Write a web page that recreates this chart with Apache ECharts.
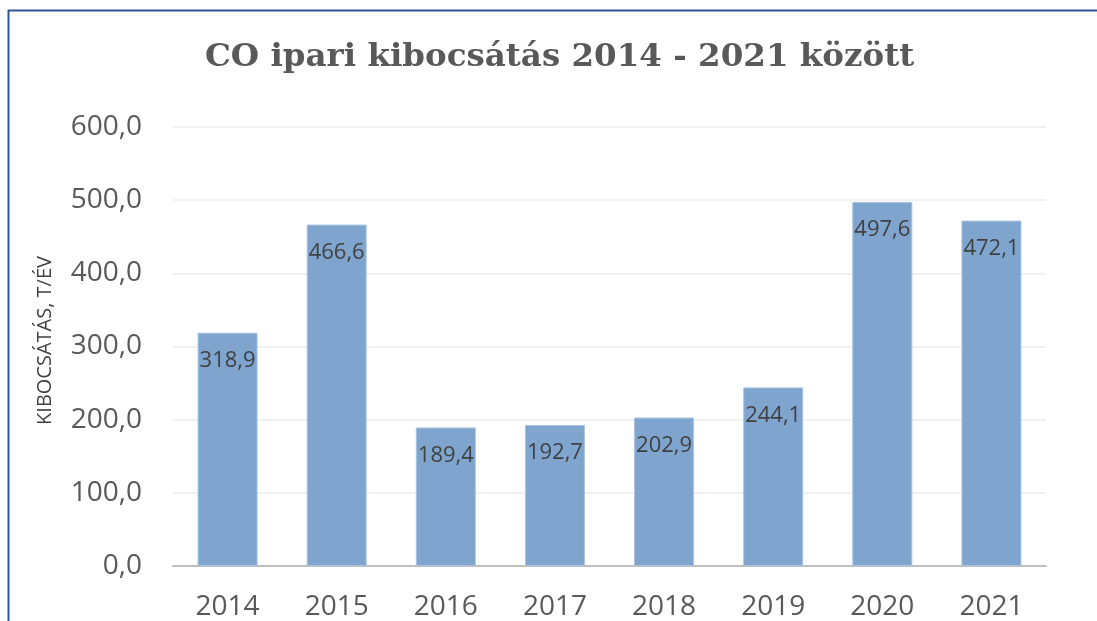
<!DOCTYPE html>
<html>
<head>
<meta charset="utf-8">
<script src="https://cdn.jsdelivr.net/npm/echarts@6/dist/echarts.min.js"></script>
<style>
  html, body { margin: 0; padding: 0; background: #fff; }
  #chart { width: 1097px; height: 621px; }
</style>
</head>
<body>
<div id="chart"></div>
<script>
// data
const years = ['2014', '2015', '2016', '2017', '2018', '2019', '2020', '2021'];
const emissions = [318.9, 466.6, 189.4, 192.7, 202.9, 244.1, 497.6, 472.1];
const titleText = 'CO ipari kibocsátás 2014 - 2021 között';
const yAxisName = 'KIBOCSÁTÁS, T/ÉV';

const fmt = v => v.toFixed(1).replace('.', ',');

const chart = echarts.init(document.getElementById('chart'), null, { renderer: 'canvas' });
chart.setOption({
  backgroundColor: '#fff',
  animation: false,
  title: {
    text: titleText,
    left: 200,
    top: 36,
    textStyle: { fontFamily: 'DejaVu Serif', fontWeight: 'bold', fontSize: 32.5, color: '#595959' }
  },
  // the blue frame on the left and top edges
  graphic: [
    { type: 'line', shape: { x1: 8.5, y1: 10, x2: 8.5, y2: 621 }, style: { stroke: '#2f5597', lineWidth: 2 } },
    { type: 'line', shape: { x1: 8, y1: 10.5, x2: 1097, y2: 10.5 }, style: { stroke: '#2f5597', lineWidth: 2 } }
  ],
  grid: { left: 173, right: 51, top: 127, bottom: 53 },
  xAxis: {
    type: 'category',
    data: years,
    axisLine: { lineStyle: { color: '#bfbfbf', width: 2 } },
    axisTick: { show: false },
    axisLabel: { fontFamily: 'Open Sans', fontSize: 28, color: '#595959', margin: 27 }
  },
  yAxis: {
    type: 'value',
    min: 0, max: 600, interval: 100,
    name: yAxisName,
    nameLocation: 'middle',
    nameGap: 118,
    nameTextStyle: { fontFamily: 'Open Sans', fontSize: 20, color: '#404040', padding: [0, 0, 0, 12] },
    axisLine: { show: false },
    axisTick: { show: false },
    splitLine: { lineStyle: { color: '#ececec', width: 1.5 } },
    axisLabel: { fontFamily: 'Open Sans', fontSize: 28, color: '#595959', margin: 31, formatter: fmt }
  },
  series: [{
    type: 'bar',
    data: emissions,
    barWidth: '55%',
    itemStyle: { color: '#7fa5cf', borderColor: '#a9c4e3', borderWidth: 1 },
    label: {
      show: true,
      position: 'insideTop',
      distance: 17,
      fontFamily: 'Open Sans',
      fontSize: 22,
      color: '#404040',
      formatter: p => fmt(p.value)
    }
  }]
});
</script>
</body>
</html>
